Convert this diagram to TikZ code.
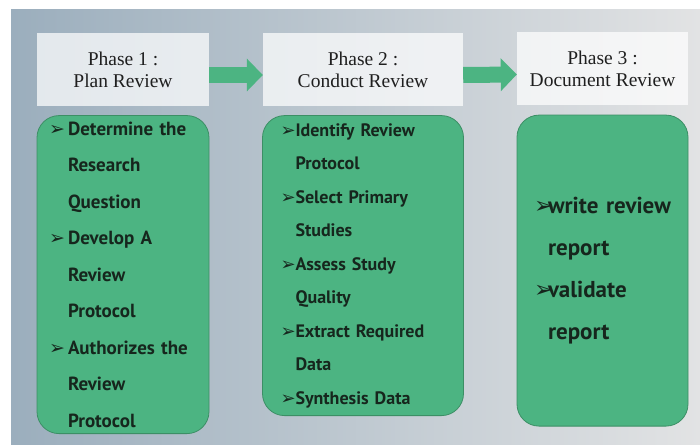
\documentclass[tikz,border=0pt]{standalone}
\usepackage{fontspec}
\setmainfont{Liberation Serif}
\newfontfamily\itemfont{PT Sans}
\newfontfamily\symfont{DejaVu Sans}
\usetikzlibrary{positioning,arrows.meta}
\definecolor{leafgreen}{HTML}{4CB482}
\definecolor{leafedge}{HTML}{3C8F65}
\definecolor{inkdark}{HTML}{16261D}
\definecolor{shadeleft}{HTML}{9BAEBD}
\definecolor{shademid}{HTML}{C6CFD6}
\definecolor{shaderight}{HTML}{E2E3E4}
\tikzset{
  phase/.style={fill=white, fill opacity=0.72, text opacity=1, text=black!88,
    minimum height=73pt, align=center, inner sep=0pt,
    font=\fontsize{19.5}{22}\selectfont},
  tasks/.style={draw=leafedge, line width=0.8pt, fill=leafgreen, text=inkdark,
    rounded corners=22pt, align=left, inner ysep=0pt,
    font=\itemfont\bfseries\fontsize{19}{36.5}\selectfont},
  flow/.style={leafgreen, line width=16pt, -{Triangle[width=32pt,length=16pt]}},
}
\newcommand{\bul}[1]{\makebox[#1][l]{\symfont ➢}}

\begin{document}
\begin{tikzpicture}[x=1pt,y=-1pt]
	\useasboundingbox (0,0) rectangle (700,446);
	% backdrop
	\fill[left color=shadeleft, middle color=shademid, right color=shaderight]
		(11,10) rectangle (700,444);

	\node[phase, minimum width=172pt] (p1) at (123,69.5) {Phase 1 :\\Plan Review};
	\node[phase, minimum width=200pt] (p2) at (363,69.5) {Phase 2 :\\Conduct Review};
	\node[phase, minimum width=171pt] (p3) at (602.5,69) {Phase 3 :\\Document Review};

	\draw[flow] ([yshift=-5.5pt]p1.east) -- ([yshift=-5.5pt]p2.west);
	\draw[flow] ([yshift=-5.5pt]p2.east) -- ([yshift=-5.5pt]p3.west);

	\node[tasks, below=9pt of p1, inner xsep=12pt, text width=148pt, minimum height=318pt] (t1) {%
		\bul{19pt}Determine the\\
		\hspace*{19pt}Research\\
		\hspace*{19pt}Question\\
		\bul{19pt}Develop A\\
		\hspace*{19pt}Review\\
		\hspace*{19pt}Protocol\\
		\bul{19pt}Authorizes the\\
		\hspace*{19pt}Review\\
		\hspace*{19pt}Protocol};
	\node[tasks, below=9pt of p2, inner xsep=18pt, text width=165pt, minimum height=300pt,
		font=\itemfont\bfseries\fontsize{18}{33.5}\selectfont] (t2) {%
		\bul{15pt}Identify Review\\
		\hspace*{15pt}Protocol\\
		\bul{15pt}Select Primary\\
		\hspace*{15pt}Studies\\
		\bul{15pt}Assess Study\\
		\hspace*{15pt}Quality\\
		\bul{15pt}Extract Required\\
		\hspace*{15pt}Data\\
		\bul{15pt}Synthesis Data};
	\node[tasks, below=9pt of p3, inner xsep=17pt, text width=137pt, minimum height=311pt,
		font=\itemfont\bfseries\fontsize{23}{42}\selectfont] (t3) {%
		\bul{14pt}write review\\
		\hspace*{14pt}report\\
		\bul{14pt}validate\\
		\hspace*{14pt}report};
\end{tikzpicture}
\end{document}
